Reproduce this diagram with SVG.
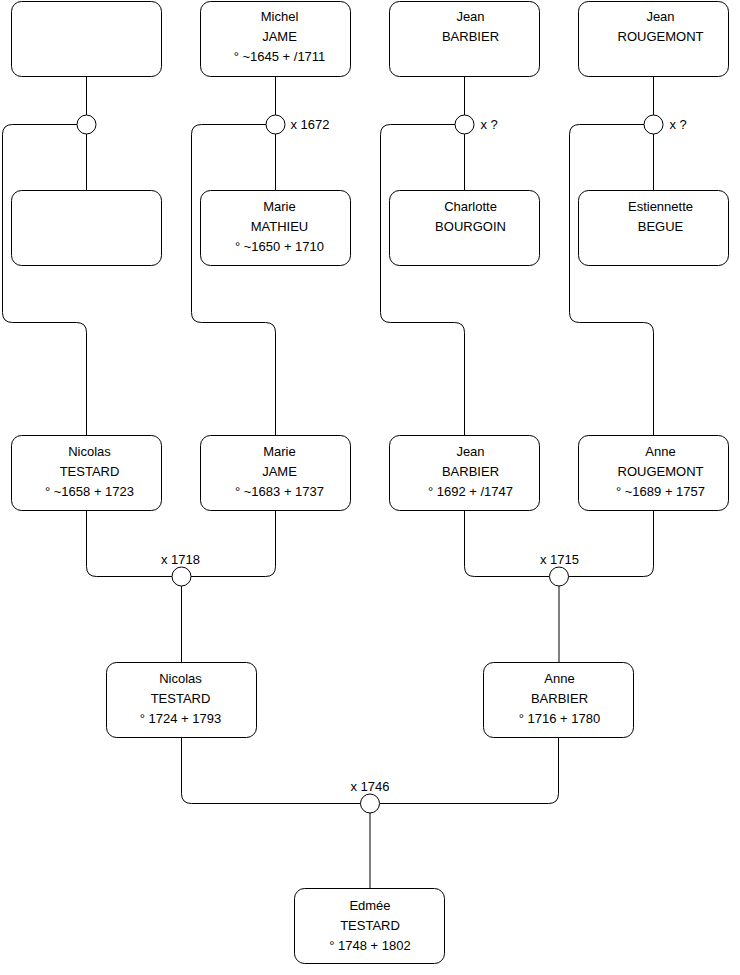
<svg xmlns="http://www.w3.org/2000/svg" width="740" height="975" viewBox="0 0 740 975">
<style>
.box{fill:#fff;stroke:#000;stroke-width:1}
.dot{fill:#fff;stroke:#000;stroke-width:1}
.c{fill:none;stroke:#000;stroke-width:1}
text{font-family:"Liberation Sans",Arial,Helvetica,sans-serif;font-size:13px;fill:#000}
.m{text-anchor:middle}
</style>
<rect width="740" height="975" fill="#fff"/>
<g transform="translate(0.5,0.5)">
<g id="connectors">
<path class="c" d="M86 76V114.5M86 133.5V190M76.5 124H12Q2 124 2 134V312Q2 322 12 322H76Q86 322 86 332V435"/>
<path class="c" d="M275 76V114.5M275 133.5V190M265.5 124H201Q191 124 191 134V312Q191 322 201 322H265Q275 322 275 332V435"/>
<path class="c" d="M464 76V114.5M464 133.5V190M454.5 124H390Q380 124 380 134V312Q380 322 390 322H454Q464 322 464 332V435"/>
<path class="c" d="M653 76V114.5M653 133.5V190M643.5 124H579Q569 124 569 134V312Q569 322 579 322H643Q653 322 653 332V435"/>
<path class="c" d="M86 510V566Q86 576 96 576H171.5M275 510V566Q275 576 265 576H190.5M181 585.5V662"/>
<path class="c" d="M464 510V566Q464 576 474 576H549M653 510V566Q653 576 643 576H568M558.5 585.5V662"/>
<path class="c" d="M181 737V793Q181 803 191 803H360M558 737V793Q558 803 548 803H379.5M369.5 812.5V888"/>
</g>
<g id="unions">
<g id="u1"><circle class="dot" cx="86" cy="124" r="9.5"/></g>
<g id="u2"><circle class="dot" cx="275" cy="124" r="9.5"/><text x="290" y="128">x 1672</text></g>
<g id="u3"><circle class="dot" cx="464" cy="124" r="9.5"/><text x="480" y="128">x ?</text></g>
<g id="u4"><circle class="dot" cx="653" cy="124" r="9.5"/><text x="669" y="128">x ?</text></g>
<g id="u5"><circle class="dot" cx="181" cy="576" r="9.5"/><text class="m" x="180" y="563">x 1718</text></g>
<g id="u6"><circle class="dot" cx="558.5" cy="576" r="9.5"/><text class="m" x="559" y="563">x 1715</text></g>
<g id="u7"><circle class="dot" cx="369.5" cy="803" r="9.5"/><text class="m" x="369.5" y="790">x 1746</text></g>
</g>
<g id="n1"><rect class="box" x="11" y="1" width="150" height="75" rx="10"/></g>
<g id="n2"><rect class="box" x="200" y="1" width="150" height="75" rx="10"/>
<text class="m" x="279" y="20">Michel</text><text class="m" x="279" y="40">JAME</text><text class="m" x="279" y="60">° ~1645 + /1711</text></g>
<g id="n3"><rect class="box" x="389" y="1" width="150" height="75" rx="10"/>
<text class="m" x="470" y="20">Jean</text><text class="m" x="470" y="40">BARBIER</text></g>
<g id="n4"><rect class="box" x="578" y="1" width="150" height="75" rx="10"/>
<text class="m" x="660" y="20">Jean</text><text class="m" x="660" y="40">ROUGEMONT</text></g>
<g id="n5"><rect class="box" x="11" y="190" width="150" height="75" rx="10"/></g>
<g id="n6"><rect class="box" x="200" y="190" width="150" height="75" rx="10"/>
<text class="m" x="279" y="210">Marie</text><text class="m" x="279" y="230">MATHIEU</text><text class="m" x="279" y="250">° ~1650 + 1710</text></g>
<g id="n7"><rect class="box" x="389" y="190" width="150" height="75" rx="10"/>
<text class="m" x="470" y="210">Charlotte</text><text class="m" x="470" y="230">BOURGOIN</text></g>
<g id="n8"><rect class="box" x="578" y="190" width="150" height="75" rx="10"/>
<text class="m" x="660" y="210">Estiennette</text><text class="m" x="660" y="230">BEGUE</text></g>
<g id="n9"><rect class="box" x="11" y="435" width="150" height="75" rx="10"/>
<text class="m" x="89" y="455">Nicolas</text><text class="m" x="89" y="475">TESTARD</text><text class="m" x="89" y="495">° ~1658 + 1723</text></g>
<g id="n10"><rect class="box" x="200" y="435" width="150" height="75" rx="10"/>
<text class="m" x="279" y="455">Marie</text><text class="m" x="279" y="475">JAME</text><text class="m" x="279" y="495">° ~1683 + 1737</text></g>
<g id="n11"><rect class="box" x="389" y="435" width="150" height="75" rx="10"/>
<text class="m" x="470" y="455">Jean</text><text class="m" x="470" y="475">BARBIER</text><text class="m" x="470" y="495">° 1692 + /1747</text></g>
<g id="n12"><rect class="box" x="578" y="435" width="150" height="75" rx="10"/>
<text class="m" x="660" y="455">Anne</text><text class="m" x="660" y="475">ROUGEMONT</text><text class="m" x="660" y="495">° ~1689 + 1757</text></g>
<g id="n13"><rect class="box" x="106" y="662" width="150" height="75" rx="10"/>
<text class="m" x="180" y="682">Nicolas</text><text class="m" x="180" y="702">TESTARD</text><text class="m" x="180" y="722">° 1724 + 1793</text></g>
<g id="n14"><rect class="box" x="483" y="662" width="150" height="75" rx="10"/>
<text class="m" x="559" y="682">Anne</text><text class="m" x="559" y="702">BARBIER</text><text class="m" x="559" y="722">° 1716 + 1780</text></g>
<g id="n15"><rect class="box" x="294" y="888" width="150" height="75" rx="10"/>
<text class="m" x="369.5" y="909">Edmée</text><text class="m" x="369.5" y="929">TESTARD</text><text class="m" x="369.5" y="949">° 1748 + 1802</text></g>
</g>
</svg>
